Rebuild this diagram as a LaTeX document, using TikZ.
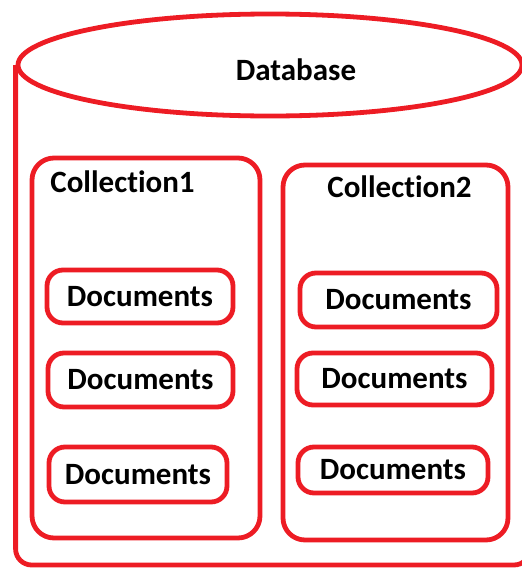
\documentclass[tikz,border=0pt]{standalone}
\usepackage{fontspec}
\setmainfont[Ligatures=NoCommon]{Carlito}
\usetikzlibrary{shapes.geometric}
\definecolor{dbred}{RGB}{237,28,36}

\begin{document}
\begin{tikzpicture}[x=0.5pt, y=-0.5pt,
	redline/.style={draw=dbred, line width=2.4pt},
	lbl/.style={font=\bfseries\fontsize{15.5}{18}\selectfont, inner sep=0pt},
	doc/.style={redline, lbl, rounded corners=8pt},
	coll/.style={redline, rounded corners=11pt, inner sep=0pt}]
\useasboundingbox (0,0) rectangle (522,568);
\clip (0,0) rectangle (522,568);
%draw the database
\node[redline, ellipse, minimum width=252pt, minimum height=51pt] (db) at (270,65) {};
\node[lbl] (dbname) at (296,70) {Database};
\coordinate (dbbr) at (530,565);
\coordinate (dbtr) at (530,520);
\draw[redline, rounded corners=8pt] (db.west) |- (dbbr) -- (dbtr);

%first collection
\node[coll, minimum width=114pt, minimum height=190pt] (coll1) at (146,348) {};
\node[lbl, anchor=west] (coll1name) at (50,182) {Collection1};
\node[doc, minimum width=93pt, minimum height=26.5pt] (doc11) at (140,296.5) {Documents};
\node[doc, minimum width=92.5pt, minimum height=27pt] (doc12) at (140.5,380) {Documents};
\node[doc, minimum width=89pt, minimum height=27.5pt] (doc13) at (138,474.5) {Documents};

%second collection
\node[coll, minimum width=112.5pt, minimum height=187.5pt] (coll2) at (395.5,352.5) {};
\node[lbl, anchor=west] (coll2name) at (327,187) {Collection2};
\node[doc, minimum width=98.5pt, minimum height=27pt] (doc21) at (398.5,300) {Documents};
\node[doc, minimum width=97.5pt, minimum height=26pt] (doc22) at (394.5,379) {Documents};
\node[doc, minimum width=95pt, minimum height=23pt] (doc23) at (393,470) {Documents};
\end{tikzpicture}
\end{document}
